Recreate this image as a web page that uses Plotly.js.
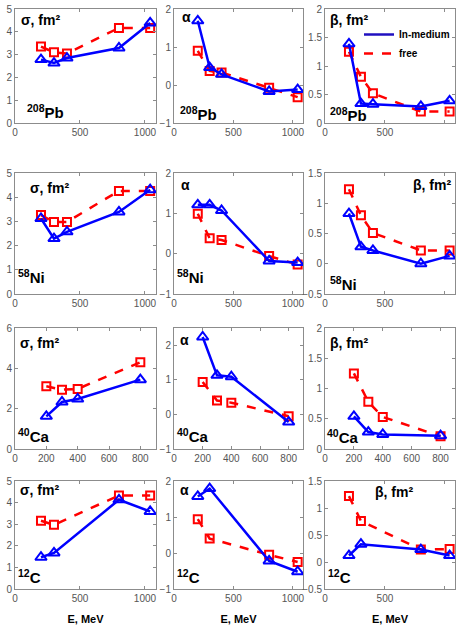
<!DOCTYPE html>
<html>
<head>
<meta charset="utf-8">
<script src="https://cdn.plot.ly/plotly-3.0.1.min.js"></script>
<style>html,body{margin:0;padding:0;background:#fff;}#chart{width:456px;height:625px;}</style>
</head>
<body>
<div id="chart"></div>
<script>
// Energies (MeV)
const E_PB = [200, 300, 400, 800, 1040];
const E_NI = [200, 300, 400, 800, 1040];
const E_CA = [200, 300, 400, 800];
const E_C  = [200, 300, 800, 1040];

// 208Pb
const PB_SIGMA_FREE = [3.35, 3.10, 3.05, 4.17, 4.17];
const PB_SIGMA_MED  = [2.78, 2.63, 2.85, 3.29, 4.39];
const PB_ALPHA_FREE = [0.90, 0.37, 0.33, -0.07, -0.32];
const PB_ALPHA_MED  = [1.69, 0.46, 0.28, -0.17, -0.12];
const PB_BETA_FREE  = [1.25, 0.81, 0.52, 0.20, 0.20];
const PB_BETA_MED   = [1.39, 0.34, 0.33, 0.29, 0.39];
// 58Ni
const NI_SIGMA_FREE = [3.26, 2.98, 2.98, 4.26, 4.26];
const NI_SIGMA_MED  = [3.12, 2.29, 2.57, 3.39, 4.31];
const NI_ALPHA_FREE = [0.99, 0.38, 0.34, -0.06, -0.27];
const NI_ALPHA_MED  = [1.21, 1.21, 1.07, -0.18, -0.22];
const NI_BETA_FREE  = [1.23, 0.80, 0.51, 0.22, 0.22];
const NI_BETA_MED   = [0.83, 0.28, 0.22, 0.00, 0.13];
// 40Ca
const CA_SIGMA_FREE = [3.11, 2.94, 2.98, 4.30];
const CA_SIGMA_MED  = [1.62, 2.33, 2.48, 3.44];
const CA_ALPHA_FREE = [0.94, 0.40, 0.34, -0.05];
const CA_ALPHA_MED  = [2.24, 1.13, 1.09, -0.22];
const CA_BETA_FREE  = [1.25, 0.78, 0.53, 0.21];
const CA_BETA_MED   = [0.54, 0.28, 0.24, 0.22];
// 12C
const C_SIGMA_FREE = [3.16, 2.97, 4.33, 4.33];
const C_SIGMA_MED  = [1.47, 1.67, 4.13, 3.59];
const C_ALPHA_FREE = [0.94, 0.40, -0.05, -0.25];
const C_ALPHA_MED  = [1.57, 1.79, -0.22, -0.52];
const C_BETA_FREE  = [1.22, 0.76, 0.23, 0.24];
const C_BETA_MED   = [0.12, 0.33, 0.23, 0.12];

const LEGEND_NAMES = ['In-medium', 'free'];
const QTY_LABELS = ['σ, fm²', 'α', 'β, fm²'];
const NUCLEI = [['208', 'Pb'], ['58', 'Ni'], ['40', 'Ca'], ['12', 'C']];
const X_TITLE = 'E, MeV';

const RED = '#FF0000', BLUE = '#0000FF';
const W = 456, H = 625;

const panels = [
  [E_PB, PB_SIGMA_FREE, PB_SIGMA_MED], [E_PB, PB_ALPHA_FREE, PB_ALPHA_MED], [E_PB, PB_BETA_FREE, PB_BETA_MED],
  [E_NI, NI_SIGMA_FREE, NI_SIGMA_MED], [E_NI, NI_ALPHA_FREE, NI_ALPHA_MED], [E_NI, NI_BETA_FREE, NI_BETA_MED],
  [E_CA, CA_SIGMA_FREE, CA_SIGMA_MED], [E_CA, CA_ALPHA_FREE, CA_ALPHA_MED], [E_CA, CA_BETA_FREE, CA_BETA_MED],
  [E_C, C_SIGMA_FREE, C_SIGMA_MED], [E_C, C_ALPHA_FREE, C_ALPHA_MED], [E_C, C_BETA_FREE, C_BETA_MED]
];

const colPx = [[15, 156], [174, 303], [325, 455]];
const rowPx = [[9, 123], [173, 294], [328, 449], [481, 589]];
const yRanges = [
  [[0, 5], [-1, 2], [0, 2]],
  [[0, 5], [-1, 2], [-0.5, 1.5]],
  [[0, 6], [-1, 2.5], [0, 2]],
  [[0, 5], [-1, 2], [-0.5, 1.5]]
];
const yDticks = [
  [1, 1, 0.5], [1, 1, 0.5], [2, 1, 0.5], [1, 1, 0.5]
];
// label placement (domain fractions)
const qtyPos = [
  [[0.03, 0.90], [0.05, 0.93], [0.02, 0.90]],
  [[0.09, 0.88], [0.04, 0.90], [0.66, 0.90]],
  [[0.02, 0.88], [0.03, 0.90], [0.02, 0.88]],
  [[0.02, 0.92], [0.03, 0.92], [0.37, 0.90]]
];
const nucPos = [
  [[0.07, 0.00], [0.03, -0.02], [0.02, -0.03]],
  [[0.01, 0.05], [0.01, 0.05], [0.02, -0.01]],
  [[0.01, 0.02], [0.01, 0.02], [0.00, 0.01]],
  [[0.01, 0.01], [0.01, 0.01], [0.01, 0.01]]
];

const traces = [];
const layout = {
  width: W, height: H,
  margin: {l: 0, r: 0, t: 0, b: 0},
  paper_bgcolor: '#ffffff', plot_bgcolor: '#ffffff',
  font: {family: 'Liberation Sans, Arial, sans-serif', color: '#000'},
  showlegend: true,
  legend: {
    x: 359 / W, y: 1 - 20 / H, xanchor: 'left', yanchor: 'top',
    bgcolor: 'rgba(0,0,0,0)', borderwidth: 0,
    font: {size: 10, color: '#000', family: 'Liberation Sans, Arial, sans-serif', weight: 'bold'},
    tracegroupgap: 0, itemwidth: 30
  },
  annotations: []
};

const fontTick = {size: 10, color: '#555', family: 'Liberation Sans, Arial, sans-serif'};

panels.forEach((p, i) => {
  const r = Math.floor(i / 3), c = i % 3;
  const n = i + 1;
  const xa = n === 1 ? 'x' : 'x' + n;
  const ya = n === 1 ? 'y' : 'y' + n;
  const xk = n === 1 ? 'xaxis' : 'xaxis' + n;
  const yk = n === 1 ? 'yaxis' : 'yaxis' + n;
  const [E, free, med] = p;
  traces.push({
    x: E, y: free, xaxis: xa, yaxis: ya, mode: 'lines+markers', showlegend: false,
    line: {color: RED, width: 2.5, dash: 'dash'},
    marker: {symbol: 'square-open', size: 8, color: RED, line: {width: 2, color: RED}}
  });
  traces.push({
    x: E, y: med, xaxis: xa, yaxis: ya, mode: 'lines+markers', showlegend: false,
    line: {color: BLUE, width: 2.5},
    marker: {symbol: 'triangle-up-open', size: 10, color: BLUE, line: {width: 2, color: BLUE}}
  });
  const isCa = r === 2;
  layout[xk] = {
    domain: [colPx[c][0] / W, colPx[c][1] / W],
    anchor: ya,
    range: isCa ? [0, 900] : [0, 1085],
    tickvals: isCa ? [0, 200, 400, 600, 800] : [0, 500, 1000],
    showgrid: false, zeroline: false,
    showline: true, linecolor: '#8c8c8c', linewidth: 1, mirror: 'ticks',
    ticks: 'inside', ticklen: 3, tickcolor: '#8c8c8c',
    tickfont: fontTick, fixedrange: true
  };
  if (r === 3) {
    layout[xk].title = {text: X_TITLE, standoff: 15,
      font: {size: 11, color: '#000', family: 'Liberation Sans, Arial, sans-serif', weight: 'bold'}};
  }
  layout[yk] = {
    domain: [1 - rowPx[r][1] / H, 1 - rowPx[r][0] / H],
    anchor: xa,
    range: yRanges[r][c], dtick: yDticks[r][c], tick0: 0,
    showgrid: false, zeroline: false,
    showline: true, linecolor: '#8c8c8c', linewidth: 1, mirror: 'ticks',
    ticks: 'inside', ticklen: 3, tickcolor: '#8c8c8c',
    tickfont: fontTick, fixedrange: true
  };
  layout.annotations.push({
    xref: xa + ' domain', yref: ya + ' domain',
    x: qtyPos[r][c][0], y: qtyPos[r][c][1], xanchor: 'left', yanchor: 'middle',
    text: '<b>' + QTY_LABELS[c] + '</b>', showarrow: false,
    font: {size: 14, color: '#000', family: 'Liberation Sans, Arial, sans-serif'}
  });
  layout.annotations.push({
    xref: xa + ' domain', yref: ya + ' domain',
    x: nucPos[r][c][0], y: nucPos[r][c][1], xanchor: 'left', yanchor: 'bottom',
    text: '<b><sup>' + NUCLEI[r][0] + '</sup>' + NUCLEI[r][1] + '</b>', showarrow: false,
    font: {size: 15, color: '#000', family: 'Liberation Sans, Arial, sans-serif'}
  });
});

// legend entries (line samples only)
traces.push({x: [null], y: [null], xaxis: 'x3', yaxis: 'y3', mode: 'lines', name: LEGEND_NAMES[0],
  line: {color: '#2010C0', width: 2.5}, showlegend: true, hoverinfo: 'skip'});
traces.push({x: [null], y: [null], xaxis: 'x3', yaxis: 'y3', mode: 'lines', name: LEGEND_NAMES[1],
  line: {color: RED, width: 2.5, dash: 'dash'}, showlegend: true, hoverinfo: 'skip'});

Plotly.newPlot('chart', traces, layout, {staticPlot: true, displayModeBar: false});
</script>
</body>
</html>
